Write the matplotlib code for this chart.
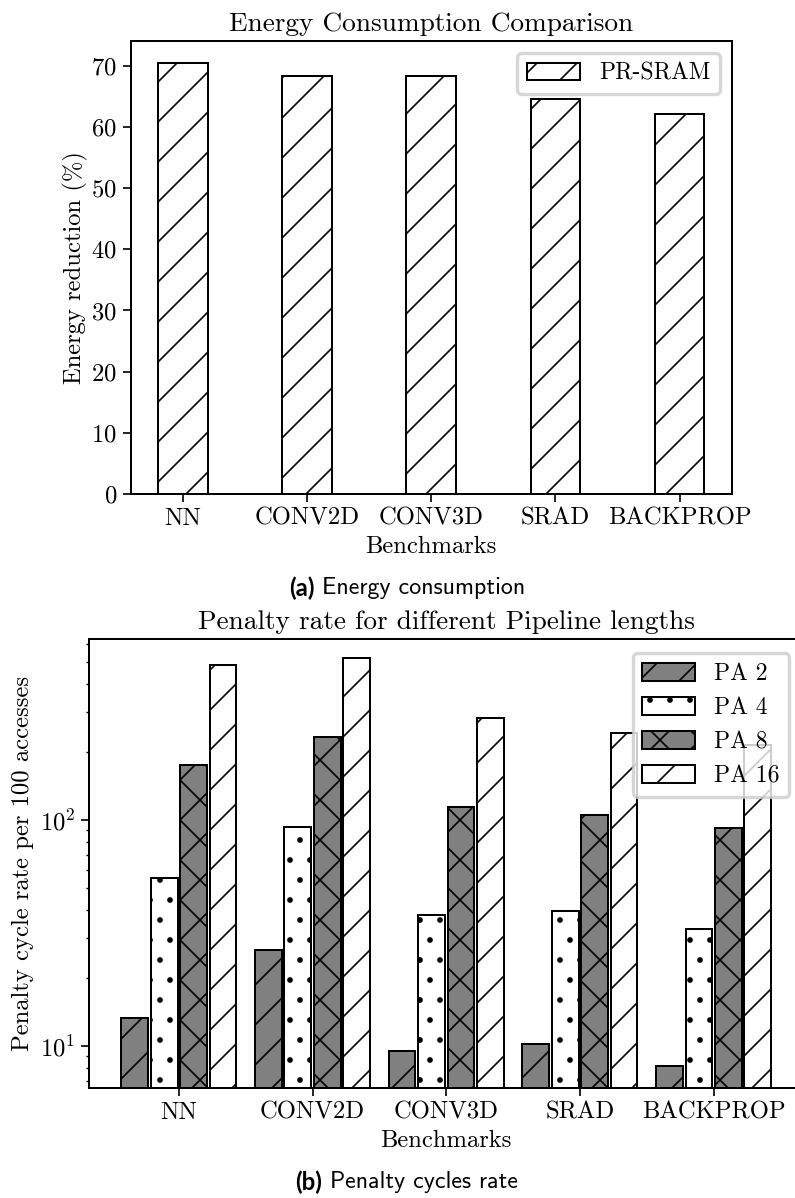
import numpy as np
import matplotlib
matplotlib.use('Agg')
import matplotlib.pyplot as plt

benchmarks = ['NN', 'CONV2D', 'CONV3D', 'SRAD', 'BACKPROP']
energy_reduction = [70.5, 68.4, 68.4, 64.6, 62.1]

pa_labels = ['PA 2', 'PA 4', 'PA 8', 'PA 16']
pa2 = [13.3, 26.4, 9.5, 10.2, 8.1]
pa4 = [55, 93, 38, 39.5, 33]
pa8 = [174, 233, 114, 105, 92]
pa16 = [485, 520, 282, 242, 215]

plt.rcParams['font.family'] = 'cmr10'
plt.rcParams['mathtext.fontset'] = 'cm'
plt.rcParams['axes.formatter.use_mathtext'] = True
plt.rcParams['axes.unicode_minus'] = False
plt.rcParams['font.size'] = 7.4
plt.rcParams['legend.fontsize'] = 7.1
plt.rcParams['axes.titlesize'] = 8.2
plt.rcParams['hatch.linewidth'] = 0.5
plt.rcParams['axes.linewidth'] = 0.6
for a in ['xtick', 'ytick']:
    plt.rcParams[a + '.major.width'] = 0.5
    plt.rcParams[a + '.minor.width'] = 0.4
    plt.rcParams[a + '.major.size'] = 2.3
    plt.rcParams[a + '.minor.size'] = 1.0
    plt.rcParams[a + '.major.pad'] = 1.8
    plt.rcParams[a + '.minor.pad'] = 1.8

dpi = 240
fig = plt.figure(figsize=(795 / dpi, 1198 / dpi), dpi=dpi)
x = np.arange(len(benchmarks))

# (a) energy
ax1 = fig.add_axes([0.1645, 0.5876, 0.756, 0.3781])
ax1.bar(x, energy_reduction, 0.4, color='white', edgecolor='black',
        hatch='//', linewidth=0.6, label='PR-SRAM')
ax1.set_xticks(x, benchmarks)
ax1.set_xlabel('Benchmarks', labelpad=1.8)
ax1.set_ylabel('Energy reduction (%)', labelpad=1.0)
ax1.set_title('Energy Consumption Comparison', pad=3)
ax1.legend(loc='upper right', handlelength=2.25, handleheight=0.75)

# (b) penalty
ax2 = fig.add_axes([0.1118, 0.0918, 0.899, 0.3748])
width = 0.2
step = 0.22
series = [pa2, pa4, pa8, pa16]
colors = ['gray', 'white', 'gray', 'white']
hatches = ['//', '..', 'xx', '//']
for i in range(len(series)):
    ax2.bar(x + (i - 1.5) * step, series[i], width, color=colors[i],
            edgecolor='black', hatch=hatches[i], linewidth=0.6,
            label=pa_labels[i])
ax2.set_yscale('log')
ax2.set_ylim(6.5, 630)
ax2.set_xticks(x, benchmarks)
ax2.set_xlabel('Benchmarks', labelpad=1.8)
ax2.set_ylabel('Penalty cycle rate per 100 accesses', labelpad=1.8)
ax2.set_title('Penalty rate for different Pipeline lengths', pad=3)
ax2.legend(loc='upper right', handlelength=2.25, handleheight=0.8,
           borderaxespad=0.6)

# captions
fig.text(0.396, 0.509, '(a)', ha='right', va='center', family='Lato',
         weight='bold', fontsize=7.2)
fig.text(0.405, 0.509, 'Energy consumption', ha='left', va='center',
         family='cmss10', fontsize=7.2)
fig.text(0.405, 0.0134, '(b)', ha='right', va='center', family='Lato',
         weight='bold', fontsize=7.2)
fig.text(0.415, 0.0134, 'Penalty cycles rate', ha='left', va='center',
         family='cmss10', fontsize=7.2)

fig.savefig('out.png', dpi=dpi)
